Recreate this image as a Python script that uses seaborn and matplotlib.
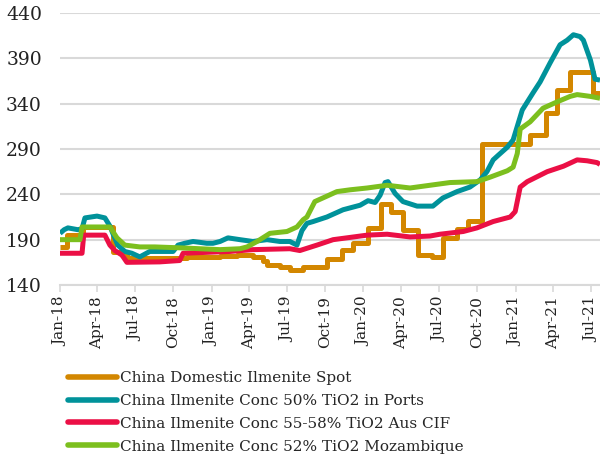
import matplotlib
matplotlib.use("Agg")
import matplotlib.pyplot as plt
import matplotlib.dates as mdates
import pandas as pd
import seaborn as sns

# China Domestic Ilmenite Spot (stepwise price changes)
spot_dates = ["2018-01-01", "2018-01-17", "2018-02-26", "2018-05-08", "2018-05-30",
              "2018-06-11", "2018-11-02", "2019-01-21", "2019-03-03", "2019-04-10",
              "2019-05-04", "2019-05-14", "2019-06-14", "2019-07-08", "2019-08-09",
              "2019-10-05", "2019-11-10", "2019-12-07", "2020-01-12", "2020-02-12",
              "2020-03-07", "2020-04-05", "2020-05-12", "2020-06-14", "2020-07-10",
              "2020-08-13", "2020-09-09", "2020-10-12", "2021-02-05", "2021-03-16",
              "2021-04-11", "2021-05-12", "2021-07-07", "2021-07-23"]
spot_vals = [182, 195, 204, 176, 173, 170, 171, 172, 173, 171,
             167, 162, 160, 157, 160, 169, 179, 186, 203, 229,
             220, 201, 173, 171, 192, 202, 211, 295, 305, 330,
             355, 375, 352, 352]

# China Ilmenite Conc 50% TiO2 in Ports
ports_dates = ["2018-01-01", "2018-01-11", "2018-01-20", "2018-02-13", "2018-02-23",
               "2018-03-02", "2018-03-31", "2018-04-19", "2018-05-01", "2018-05-08",
               "2018-05-20", "2018-06-06", "2018-06-23", "2018-07-12", "2018-08-05",
               "2018-09-10", "2018-09-30", "2018-10-12", "2018-10-28", "2018-11-17",
               "2018-12-04", "2018-12-20", "2019-01-04", "2019-01-21", "2019-02-09",
               "2019-03-10", "2019-04-10", "2019-05-14", "2019-06-14", "2019-07-08",
               "2019-07-25", "2019-08-06", "2019-08-18", "2019-09-02", "2019-10-05",
               "2019-11-13", "2019-12-24", "2020-01-12", "2020-01-29", "2020-02-10",
               "2020-02-22", "2020-02-29", "2020-03-17", "2020-04-05", "2020-05-09",
               "2020-06-16", "2020-07-10", "2020-08-13", "2020-09-13", "2020-10-08",
               "2020-10-24", "2020-11-08", "2020-11-20", "2020-12-12", "2020-12-26",
               "2021-01-05", "2021-01-17", "2021-02-12", "2021-03-01", "2021-03-25",
               "2021-04-18", "2021-05-05", "2021-05-20", "2021-06-05", "2021-06-13",
               "2021-06-30", "2021-07-11", "2021-07-23"]
ports_vals = [197, 201, 203, 201, 202, 214, 216, 214, 205, 197,
              184, 177, 175, 171, 177, 177, 177, 184, 186, 188,
              187, 186, 186, 188, 192, 190, 188, 190, 188, 188,
              184, 200, 208, 210, 215, 223, 228, 233, 231, 239,
              253, 254, 241, 232, 227, 227, 236, 243, 248, 256,
              265, 278, 283, 292, 300, 315, 333, 352, 364, 385,
              405, 410, 416, 414, 410, 388, 367, 366]

# China Ilmenite Conc 55-58% TiO2 Aus CIF
aus_dates = ["2018-01-01", "2018-02-23", "2018-02-27", "2018-04-19", "2018-05-01",
             "2018-05-13", "2018-05-30", "2018-06-11", "2018-08-29", "2018-10-16",
             "2018-10-24", "2019-02-14", "2019-04-10", "2019-07-08", "2019-08-01",
             "2019-09-11", "2019-10-20", "2020-01-10", "2020-02-27", "2020-04-22",
             "2020-06-09", "2020-07-03", "2020-08-28", "2020-09-30", "2020-11-08",
             "2020-12-19", "2020-12-31", "2021-01-12", "2021-01-29", "2021-03-18",
             "2021-04-26", "2021-05-29", "2021-06-22", "2021-07-16", "2021-07-23"]
aus_vals = [175, 175, 195, 195, 184, 178, 173, 165, 165.5, 167,
            175, 177, 179, 180, 178, 184, 190, 195, 196, 193,
            194, 196, 199, 203, 210, 215, 221, 248, 254, 265,
            271, 278, 277, 275, 273]

# China Ilmenite Conc 52% TiO2 Mozambique
moz_dates = ["2018-01-01", "2018-02-18", "2018-02-23", "2018-05-01", "2018-05-18",
             "2018-06-06", "2018-07-12", "2018-08-17", "2018-10-16", "2018-12-04",
             "2019-01-21", "2019-03-10", "2019-03-27", "2019-04-20", "2019-05-21",
             "2019-07-01", "2019-07-25", "2019-08-09", "2019-08-18", "2019-09-06",
             "2019-10-05", "2019-10-29", "2019-11-30", "2020-01-10", "2020-02-27",
             "2020-04-22", "2020-06-09", "2020-07-27", "2020-09-30", "2020-11-01",
             "2020-12-12", "2020-12-26", "2021-01-05", "2021-01-12", "2021-02-05",
             "2021-03-08", "2021-04-11", "2021-05-12", "2021-05-29", "2021-06-30",
             "2021-07-23"]
moz_vals = [190, 190, 204, 204, 192, 184, 182, 182, 181, 180,
            179, 180, 182, 188, 197, 199, 204, 212, 215, 232,
            238, 243, 245, 247, 250, 247, 250, 253, 254, 259,
            266, 270, 285, 312, 320, 335, 342, 348, 350, 348,
            346]

series_labels = ["China Domestic Ilmenite Spot",
                 "China Ilmenite Conc 50% TiO2 in Ports",
                 "China Ilmenite Conc 55-58% TiO2 Aus CIF",
                 "China Ilmenite Conc 52% TiO2 Mozambique"]
series_colors = ["#D38700", "#00929A", "#EB0F45", "#7CBF1E"]

y_ticks = [140, 190, 240, 290, 340, 390, 440]

sns.set_theme(style="white")
plt.rcParams["font.family"] = ["DejaVu Serif"]

fig = plt.figure(figsize=(6.0, 4.59), dpi=100)
ax = fig.add_axes([0.1, 1 - 285 / 459, 0.9, (285 - 13) / 459])

frames = [
    (spot_dates, spot_vals, "steps-post"),
    (ports_dates, ports_vals, "default"),
    (aus_dates, aus_vals, "default"),
    (moz_dates, moz_vals, "default"),
]
for (d, v, style), label, color in zip(frames, series_labels, series_colors):
    df = pd.DataFrame({"date": pd.to_datetime(d), "price": v})
    sns.lineplot(data=df, x="date", y="price", ax=ax, color=color,
                 linewidth=3.6, drawstyle=style, label=label,
                 solid_joinstyle="round", solid_capstyle="butt")

ax.set_xlim(pd.Timestamp("2018-01-01"), pd.Timestamp("2021-07-23"))
ax.set_ylim(140, 440)
ax.set_yticks(y_ticks)
ax.set_xticks(pd.date_range("2018-01-01", "2021-07-01", freq="QS"))
ax.xaxis.set_major_formatter(mdates.DateFormatter("%b-%y"))
ax.set_xlabel("")
ax.set_ylabel("")

for lbl in ax.get_xticklabels():
    lbl.set_rotation(90)
ax.tick_params(axis="x", labelsize=11, colors="#222222", length=5, width=1.2,
               direction="out", pad=3, bottom=True)
ax.tick_params(axis="x", color="#d9d9d9")
ax.tick_params(axis="y", labelsize=13.5, colors="#222222", length=0, pad=13)

ax.yaxis.grid(True, color="#d9d9d9", linewidth=1.5)
ax.xaxis.grid(False)
ax.set_axisbelow(True)
for side in ["left", "top", "right"]:
    ax.spines[side].set_visible(False)
ax.spines["bottom"].set_color("#d9d9d9")
ax.spines["bottom"].set_linewidth(1.5)

leg = ax.legend(loc="upper left", bbox_to_anchor=(68 / 600, 1 - 371 / 459),
                bbox_transform=fig.transFigure, frameon=False, fontsize=11,
                handlelength=3.2, handletextpad=0.2, labelspacing=0.58,
                borderpad=0, borderaxespad=0)
for h in leg.get_lines():
    h.set_linewidth(4.0)
    h.set_solid_capstyle("round")

fig.savefig("out.png", dpi=100)
